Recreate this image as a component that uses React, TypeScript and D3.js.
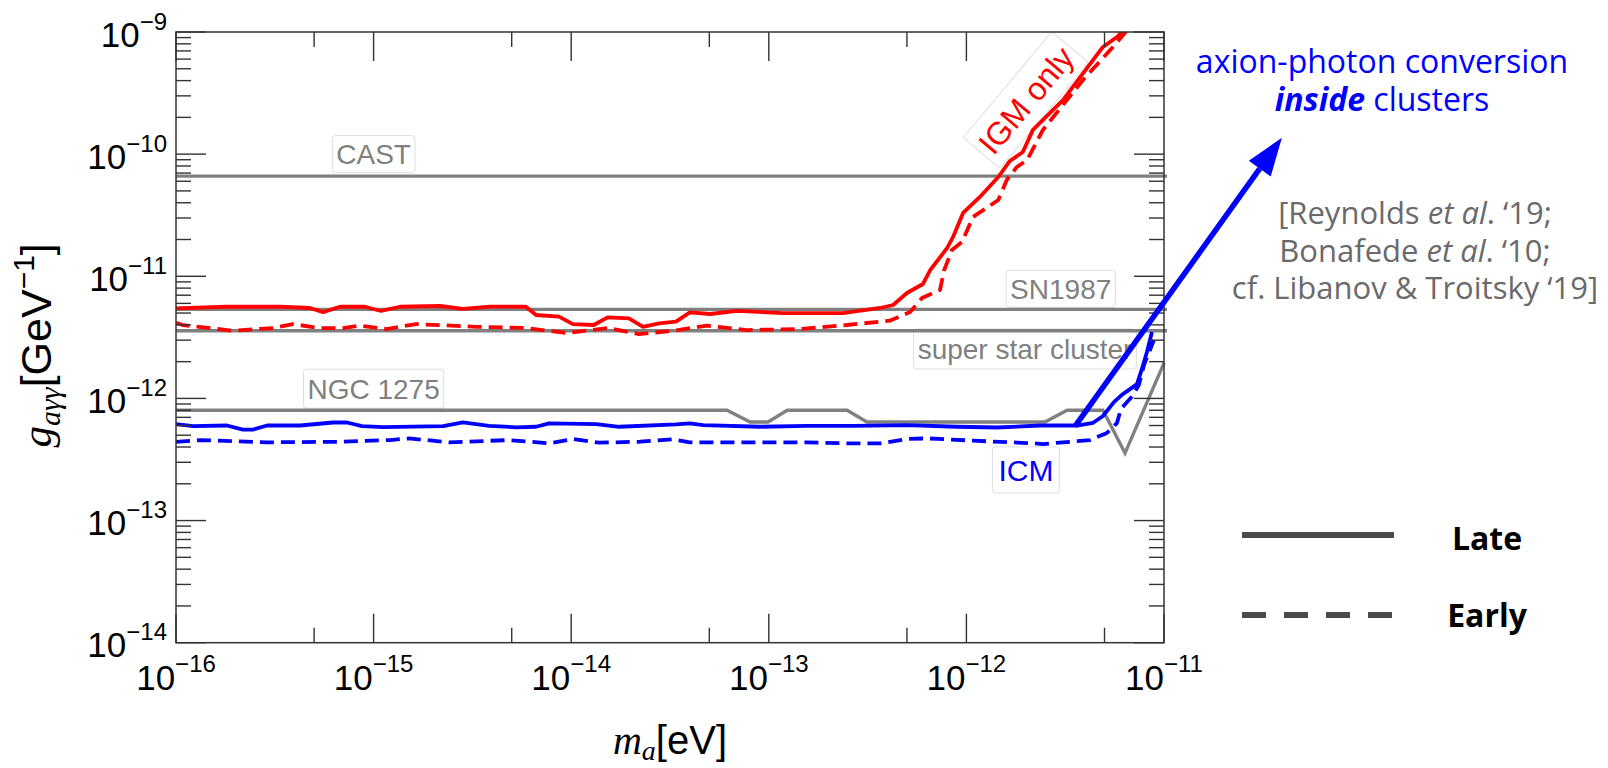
import React, { useLayoutEffect, useRef, useState } from 'react';
import * as d3 from 'd3';

// ---------------- data ----------------
const xMajorTicks = [1e-16, 1e-15, 1e-14, 1e-13, 1e-12, 1e-11];
const xMinorTicks = [5e-16, 5e-15, 5e-14, 5e-13, 5e-12];
const yMajorTicks = [1e-14, 1e-13, 1e-12, 1e-11, 1e-10, 1e-9];
const yMinorMultipliers = [2, 3, 4, 5, 6, 7, 8, 9];

const limitNames = ['CAST', 'SN1987', 'super star cluster'];
const limitValues = [6.6e-11, 5.36e-12, 3.58e-12];

const ngcMass = [1e-16, 6.15e-14, 8.04e-14, 9.91e-14, 1.24e-13, 2.49e-13, 3.14e-13, 2.5e-12, 3.23e-12, 4.91e-12, 6.35e-12, 1e-11];
const ngcG = [8.0e-13, 8.0e-13, 6.41e-13, 6.41e-13, 8.0e-13, 8.0e-13, 6.41e-13, 6.41e-13, 8.0e-13, 8.0e-13, 3.57e-13, 1.95e-12];

const igmLateMass = [1e-16, 1.79e-16, 3.36e-16, 4.76e-16, 5.55e-16, 6.76e-16, 9.04e-16, 1.09e-15, 1.36e-15, 2.17e-15, 2.83e-15, 3.88e-15, 5.9e-15, 6.64e-15, 8.67e-15, 1.02e-14, 1.3e-14, 1.53e-14, 1.96e-14, 2.31e-14, 2.78e-14, 3.39e-14, 3.99e-14, 5.04e-14, 6.9e-14, 1.18e-13, 2.37e-13, 3.37e-13, 3.66e-13, 4.26e-13, 5.0e-13, 6.03e-13, 6.55e-13, 7.98e-13, 8.55e-13, 9.62e-13, 1.17e-12, 1.45e-12, 1.66e-12, 1.93e-12, 2.17e-12, 3.08e-12, 4.91e-12, 5.78e-12, 6.28e-12];
const igmLateG = [5.47e-12, 5.63e-12, 5.63e-12, 5.5e-12, 5.09e-12, 5.63e-12, 5.63e-12, 5.2e-12, 5.63e-12, 5.71e-12, 5.4e-12, 5.65e-12, 5.63e-12, 4.82e-12, 4.67e-12, 4.06e-12, 3.99e-12, 4.61e-12, 4.53e-12, 3.86e-12, 4.12e-12, 4.25e-12, 5.07e-12, 4.91e-12, 5.2e-12, 5.0e-12, 5.0e-12, 5.4e-12, 5.5e-12, 5.82e-12, 7.3e-12, 8.65e-12, 1.12e-11, 1.7e-11, 2.09e-11, 3.3e-11, 4.46e-11, 6.5e-11, 8.79e-11, 1.04e-10, 1.58e-10, 2.77e-10, 7.54e-10, 9.1e-10, 1.04e-9];

const igmEarlyMass = [1e-16, 1.08e-16, 1.94e-16, 3.1e-16, 3.91e-16, 5.3e-16, 7.0e-16, 8.43e-16, 1.16e-15, 1.64e-15, 3.3e-15, 5.9e-15, 9.42e-15, 1.55e-14, 2.2e-14, 3.27e-14, 4.86e-14, 7.76e-14, 1.44e-13, 2.49e-13, 4.1e-13, 5.19e-13, 5.96e-13, 7.35e-13, 7.71e-13, 8.45e-13, 9.51e-13, 1.08e-12, 1.45e-12, 1.6e-12, 1.8e-12, 2.03e-12, 2.44e-12, 3.89e-12, 5.52e-12, 6.5e-12];
const igmEarlyG = [4.17e-12, 3.99e-12, 3.58e-12, 3.77e-12, 4.06e-12, 3.77e-12, 3.77e-12, 3.94e-12, 3.7e-12, 4.06e-12, 3.86e-12, 3.77e-12, 3.43e-12, 3.77e-12, 3.36e-12, 3.58e-12, 3.94e-12, 3.63e-12, 3.7e-12, 3.99e-12, 4.33e-12, 5.09e-12, 6.64e-12, 7.71e-12, 1.12e-11, 1.64e-11, 1.91e-11, 3.06e-11, 4.21e-11, 6.14e-11, 7.85e-11, 8.95e-11, 1.58e-10, 4.05e-10, 7.54e-10, 1.03e-9];

const icmLateMass = [1e-16, 1.22e-16, 1.81e-16, 2.18e-16, 2.45e-16, 2.89e-16, 4.25e-16, 6.24e-16, 7.33e-16, 8.73e-16, 1.12e-15, 2.25e-15, 2.83e-15, 3.84e-15, 5.26e-15, 6.64e-15, 7.73e-15, 1.34e-14, 1.75e-14, 3.39e-14, 3.99e-14, 4.65e-14, 9.02e-14, 1.56e-13, 2.67e-13, 5.0e-13, 8.95e-13, 1.43e-12, 2.36e-12, 3.63e-12, 4.38e-12, 4.91e-12, 5.58e-12, 6.12e-12, 7.3e-12, 7.64e-12, 8.2e-12, 8.69e-12];
const icmLateG = [6.17e-13, 5.94e-13, 6.0e-13, 5.56e-13, 5.56e-13, 6.0e-13, 6.0e-13, 6.35e-13, 6.35e-13, 5.94e-13, 5.83e-13, 5.94e-13, 6.37e-13, 5.97e-13, 5.8e-13, 5.86e-13, 6.25e-13, 6.17e-13, 5.86e-13, 6.14e-13, 6.25e-13, 6.05e-13, 5.86e-13, 5.97e-13, 5.97e-13, 6.05e-13, 5.86e-13, 5.78e-13, 6.0e-13, 6.0e-13, 6.32e-13, 7.18e-13, 9.33e-13, 1.07e-12, 1.31e-12, 1.64e-12, 2.4e-12, 3.5e-12];

const icmEarlyMass = [1e-16, 1.32e-16, 2.89e-16, 7.0e-16, 1.21e-15, 1.51e-15, 2.41e-15, 4.84e-15, 7.73e-15, 1.02e-14, 1.38e-14, 2.23e-14, 3.27e-14, 3.99e-14, 1.56e-13, 2.49e-13, 3.66e-13, 5.0e-13, 6.32e-13, 1.08e-12, 2.17e-12, 2.44e-12, 4.23e-12, 5.14e-12, 5.78e-12, 6.05e-12, 6.87e-12, 7.46e-12, 7.92e-12, 8.49e-12, 8.89e-12];
const icmEarlyG = [4.4e-13, 4.56e-13, 4.37e-13, 4.42e-13, 4.56e-13, 4.71e-13, 4.37e-13, 4.56e-13, 4.29e-13, 4.65e-13, 4.34e-13, 4.42e-13, 4.62e-13, 4.37e-13, 4.37e-13, 4.29e-13, 4.29e-13, 4.65e-13, 4.71e-13, 4.51e-13, 4.29e-13, 4.23e-13, 4.56e-13, 5.21e-13, 6.28e-13, 8.18e-13, 1.03e-12, 1.29e-12, 1.88e-12, 2.49e-12, 3.01e-12];

const arrowMass = [3.55e-12, 3.95e-11];
const arrowG = [5.94e-13, 1.36e-10];

// label anchors (data coordinates of label centres)
const labelTexts = ['CAST', 'SN1987', 'super star cluster', 'NGC 1275', 'ICM', 'IGM only'];
const labelMass = [1e-15, 3.0e-12, 1.98e-12, 1e-15, 2.0e-12, 2.0e-12];
const labelG = [1e-10, 7.9e-12, 2.54e-12, 1.2e-12, 2.6e-13, 2.77e-10];

const legendNames = ['Late', 'Early'];
const referenceLines = ['[Reynolds ', 'Bonafede ', 'cf. Libanov & Troitsky ‘19]'];

// ---------------- layout ----------------
const W = 1608;
const H = 768;
const X0 = 176, X1 = 1164, Y0 = 642.7, Y1 = 32;

const x = d3.scaleLog().domain([1e-16, 1e-11]).range([X0, X1]);
const y = d3.scaleLog().domain([1e-14, 1e-9]).range([Y0, Y1]);

const SANS = "'Liberation Sans', Arial, Helvetica, sans-serif";
const SERIF = "'Liberation Serif', 'Times New Roman', serif";
const OPEN = "'Open Sans', 'Noto Sans', sans-serif";

const lineGen = d3.line<[number, number]>().x(d => x(d[0])).y(d => y(d[1]));
const zip = (a: number[], b: number[]) => a.map((v, i) => [v, b[i]] as [number, number]);

const expLabel = (v: number) => {
  const e = Math.round(Math.log10(v));
  return (e < 0 ? '−' : '') + Math.abs(e);
};

function LabelBox(props: { cx: number; cy: number; text: string; color: string; fs: number; padX: number; boxH: number; rot?: number }) {
  const { cx, cy, text, color, fs, padX, boxH, rot = 0 } = props;
  const ref = useRef<SVGTextElement>(null);
  const [w, setW] = useState(text.length * fs * 0.55);
  useLayoutEffect(() => {
    if (ref.current) setW(ref.current.getComputedTextLength());
  }, [text, fs]);
  return (
    <g transform={`translate(${cx},${cy}) rotate(${rot})`}>
      <rect x={-w / 2 - padX} y={-boxH / 2} width={w + 2 * padX} height={boxH} rx={3} ry={3}
        fill="#ffffff" fillOpacity={0.85} stroke="#dddddd" strokeWidth={1} />
      <text ref={ref} x={0} y={fs * 0.36} textAnchor="middle" fontFamily={SANS} fontSize={fs} fill={color}>{text}</text>
    </g>
  );
}

export default function App() {
  const yMinorTicks: number[] = [];
  yMajorTicks.slice(0, -1).forEach(t => yMinorMultipliers.forEach(m => yMinorTicks.push(t * m)));

  const labelStyles = [
    { color: '#808080', fs: 28, padX: 4, boxH: 37, rot: 0 },
    { color: '#808080', fs: 28, padX: 4, boxH: 37, rot: 0 },
    { color: '#808080', fs: 28, padX: 4, boxH: 40, rot: 0 },
    { color: '#808080', fs: 28, padX: 4, boxH: 39, rot: 0 },
    { color: '#0000ff', fs: 30, padX: 6, boxH: 46, rot: 0 },
    { color: '#ff0000', fs: 32, padX: 5, boxH: 48, rot: -50 },
  ];

  // arrow geometry
  const ax0 = x(arrowMass[0]), ay0 = y(arrowG[0]);
  const ax1 = x(arrowMass[1]), ay1 = y(arrowG[1]);
  const len = Math.hypot(ax1 - ax0, ay1 - ay0);
  const ux = (ax1 - ax0) / len, uy = (ay1 - ay0) / len;
  const headL = 38, headW = 13.5;
  const bx = ax1 - ux * headL, by = ay1 - uy * headL;
  const head = `M${ax1},${ay1} L${bx - uy * headW},${by + ux * headW} L${bx + uy * headW},${by - ux * headW} Z`;

  const tickColor = '#333333';
  const curveW = 3.8;

  return (
    <svg width={W} height={H} style={{ position: 'fixed', left: 0, top: 0, background: '#fff' }}>
      <defs>
        <clipPath id="plotClip">
          <rect x={X0} y={Y1} width={X1 - X0 + 3} height={Y0 - Y1} />
        </clipPath>
      </defs>

      {/* label boxes (under the lines) */}
      {labelTexts.map((t, i) => (
        <LabelBox key={t} cx={x(labelMass[i])} cy={y(labelG[i])} text={t} {...labelStyles[i]} />
      ))}

      <g clipPath="url(#plotClip)">
        {/* limits */}
        {limitValues.map((v, i) => (
          <line key={limitNames[i]} x1={X0} x2={X1 + 3} y1={y(v)} y2={y(v)} stroke="#808080" strokeWidth={3.3} />
        ))}
        <path d={lineGen(zip(ngcMass, ngcG)) || ''} fill="none" stroke="#808080" strokeWidth={3.3} strokeLinejoin="miter" />

        {/* IGM */}
        <path d={lineGen(zip(igmLateMass, igmLateG)) || ''} fill="none" stroke="#ff0000" strokeWidth={curveW} strokeLinejoin="round" />
        <path d={lineGen(zip(igmEarlyMass, igmEarlyG)) || ''} fill="none" stroke="#ff0000" strokeWidth={curveW} strokeDasharray="14,7" strokeLinejoin="round" />

        {/* ICM */}
        <path d={lineGen(zip(icmLateMass, icmLateG)) || ''} fill="none" stroke="#0000ff" strokeWidth={curveW} strokeLinejoin="round" />
        <path d={lineGen(zip(icmEarlyMass, icmEarlyG)) || ''} fill="none" stroke="#0000ff" strokeWidth={curveW} strokeDasharray="14,7" strokeLinejoin="round" />
      </g>

      {/* frame */}
      <rect x={X0} y={Y1} width={X1 - X0} height={Y0 - Y1} fill="none" stroke={tickColor} strokeWidth={1.5} />

      {/* ticks */}
      <g stroke={tickColor} strokeWidth={1.4}>
        {xMajorTicks.map(t => (
          <g key={'xM' + t}>
            <line x1={x(t)} x2={x(t)} y1={Y0} y2={Y0 - 29} />
            <line x1={x(t)} x2={x(t)} y1={Y1} y2={Y1 + 29} />
          </g>
        ))}
        {xMinorTicks.map(t => (
          <g key={'xm' + t}>
            <line x1={x(t)} x2={x(t)} y1={Y0} y2={Y0 - 15} />
            <line x1={x(t)} x2={x(t)} y1={Y1} y2={Y1 + 15} />
          </g>
        ))}
        {yMajorTicks.map(t => (
          <g key={'yM' + t}>
            <line x1={X0} x2={X0 + 30} y1={y(t)} y2={y(t)} />
            <line x1={X1} x2={X1 - 30} y1={y(t)} y2={y(t)} />
          </g>
        ))}
        {yMinorTicks.map(t => (
          <g key={'ym' + t}>
            <line x1={X0} x2={X0 + 15} y1={y(t)} y2={y(t)} />
            <line x1={X1} x2={X1 - 15} y1={y(t)} y2={y(t)} />
          </g>
        ))}
      </g>

      {/* tick labels */}
      <g fontFamily={SANS} fill="#000">
        {xMajorTicks.map(t => (
          <text key={'xl' + t} x={x(t)} y={690} textAnchor="middle" fontSize={35}>
            10<tspan dy={-18} fontSize={24}>{expLabel(t)}</tspan>
          </text>
        ))}
        {yMajorTicks.map(t => (
          <text key={'yl' + t} x={167} y={y(t) + 14.5} textAnchor="end" fontSize={35}>
            10<tspan dy={-17} fontSize={24}>{expLabel(t)}</tspan>
          </text>
        ))}
      </g>

      {/* axis titles */}
      <text x={(X0 + X1) / 2} y={754} textAnchor="middle" fontSize={40} fontFamily={SANS} fill="#000">
        <tspan fontFamily={SERIF} fontStyle="italic">m</tspan>
        <tspan fontFamily={SERIF} fontStyle="italic" fontSize={28} dy={6}>a</tspan>
        <tspan dy={-6}>[eV]</tspan>
      </text>
      <text transform={`translate(51, ${(Y0 + Y1) / 2 + 8}) rotate(-90)`} textAnchor="middle" fontSize={43} fontFamily={SANS} fill="#000">
        <tspan fontFamily={SERIF} fontStyle="italic">g</tspan>
        <tspan fontFamily={SERIF} fontStyle="italic" fontSize={30} dy={9}>aγγ</tspan>
        <tspan dy={-9}>[GeV</tspan>
        <tspan fontSize={30} dy={-17}>−1</tspan>
        <tspan dy={17}>]</tspan>
      </text>

      {/* arrow */}
      <line x1={ax0} y1={ay0} x2={bx} y2={by} stroke="#0000ff" strokeWidth={5.5} />
      <path d={head} fill="#0000ff" />

      {/* right annotations */}
      <g fontFamily={OPEN} fill="#0000ff" textAnchor="middle" fontSize={32}>
        <text x={1382} y={73}>axion-photon conversion</text>
        <text x={1382} y={111}>
          <tspan fontWeight={700} fontStyle="italic">inside</tspan> clusters
        </text>
      </g>
      <g fontFamily={OPEN} fill="#6a6a6a" textAnchor="middle" fontSize={31}>
        <text x={1415} y={224}>{referenceLines[0]}<tspan fontStyle="italic">et al</tspan>. ‘19;</text>
        <text x={1415} y={262}>{referenceLines[1]}<tspan fontStyle="italic">et al</tspan>. ‘10;</text>
        <text x={1415} y={299}>{referenceLines[2]}</text>
      </g>

      {/* legend */}
      <line x1={1242} x2={1394} y1={535} y2={535} stroke="#4a4a4a" strokeWidth={6} />
      <line x1={1242} x2={1394} y1={615} y2={615} stroke="#4a4a4a" strokeWidth={6} strokeDasharray="24,18" />
      <g fontFamily={OPEN} fontWeight={700} fontSize={32} fill="#000" textAnchor="middle">
        <text x={1487} y={550}>{legendNames[0]}</text>
        <text x={1487} y={627}>{legendNames[1]}</text>
      </g>
    </svg>
  );
}
